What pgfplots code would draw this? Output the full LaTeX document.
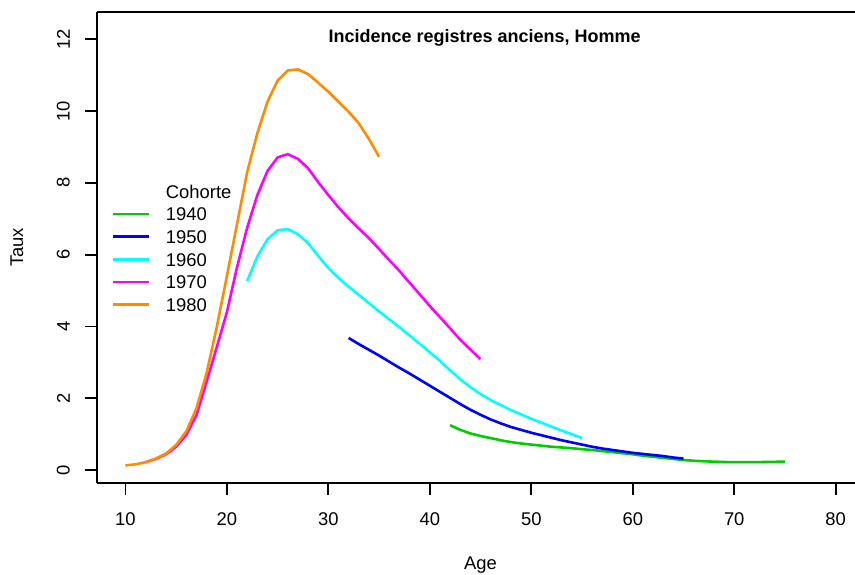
\documentclass[border=0pt]{standalone}
\usepackage{fontspec}
\setmainfont{Liberation Sans}
\usepackage{pgfplots}
\pgfplotsset{compat=1.18}

\definecolor{rgreen}{RGB}{0,205,0}
\definecolor{rblue}{RGB}{0,0,255}
\definecolor{rcyan}{RGB}{0,255,255}
\definecolor{rmagenta}{RGB}{255,0,255}
\definecolor{rorange}{RGB}{255,140,0}

\newcommand{\rfont}{\fontsize{9.2pt}{11pt}\selectfont}

\begin{document}
\begin{tikzpicture}
\useasboundingbox (-48.5pt,-45.5pt) rectangle (379pt,241.5pt);
\begin{axis}[
    at={(0,0)}, anchor=south west,
    scale only axis,
    width=379pt, height=235.5pt,
    xmin=7.2, xmax=81.9,
    ymin=-0.36, ymax=12.76,
    axis x line=box, axis y line=left,
    y axis line style={-},
    axis line style={line width=0.9pt},
    xtick={10,20,...,80}, ytick={0,2,...,12},
    xtick pos=left, ytick pos=left,
    tick align=outside,
    major tick length=5.8pt,
    tick style={line width=0.9pt, black},
    /pgf/number format/assume math mode=true,
    tick label style={font=\rfont},
    xticklabel style={anchor=north, inner sep=0pt},
    yticklabel style={rotate=90, anchor=south, inner sep=0pt},
    xticklabel shift=8.7pt,
    yticklabel shift=7.6pt,
    label style={font=\rfont},
    xlabel={Age},
    xlabel style={at={(rel axis cs:0.506,0)}, anchor=center, yshift=-41pt},
    ylabel={Taux},
    ylabel style={at={(rel axis cs:0,0.5)}, anchor=center, yshift=40pt},
    legend style={draw=none, fill=none, font=\rfont,
        at={(axis cs:8.61,8.09)}, anchor=north west,
        inner sep=0pt, row sep=0pt, column sep=8pt,
        nodes={inner sep=0pt, text height=9pt, text depth=2.33pt}},
    legend cell align=left,
    legend image code/.code={\draw[#1, line width=1.3pt] (0pt,0pt) -- (17.8pt,0pt);},
    every axis plot/.append style={line width=1.3pt},
]
\addlegendimage{empty legend}
\addlegendentry{Cohorte}

% 1940
\addplot[rgreen] coordinates {
(42,1.25) (43,1.12) (44,1.02) (45,0.95) (46,0.89) (47,0.83) (48,0.78)
(49,0.74) (50,0.71) (51,0.68) (52,0.65) (53,0.63) (54,0.61) (55,0.58)
(56,0.56) (57,0.53) (58,0.50) (59,0.47) (60,0.44) (61,0.40) (62,0.37)
(63,0.34) (64,0.31) (65,0.28) (66,0.26) (67,0.245) (68,0.235) (69,0.225)
(70,0.22) (71,0.22) (72,0.22) (73,0.225) (74,0.23) (75,0.235)
};
\addlegendentry{1940}

% 1950
\addplot[rblue] coordinates {
(32,3.68) (33,3.51) (34,3.35) (35,3.19) (36,3.02) (37,2.85) (38,2.69)
(39,2.52) (40,2.35) (41,2.18) (42,2.01) (43,1.84) (44,1.68) (45,1.54)
(46,1.41) (47,1.30) (48,1.20) (49,1.12) (50,1.04) (51,0.97) (52,0.90)
(53,0.83) (54,0.77) (55,0.71) (56,0.65) (57,0.60) (58,0.56) (59,0.52)
(60,0.48) (61,0.45) (62,0.42) (63,0.39) (64,0.35) (65,0.32)
};
\addlegendentry{1950}

% 1960
\addplot[rcyan] coordinates {
(22,5.27) (23,5.95) (24,6.43) (25,6.68) (26,6.71) (27,6.57) (28,6.32)
(29,5.97) (30,5.63) (31,5.35) (32,5.11) (33,4.88) (34,4.65) (35,4.42)
(36,4.20) (37,3.98) (38,3.75) (39,3.52) (40,3.28) (41,3.04) (42,2.78)
(43,2.53) (44,2.31) (45,2.12) (46,1.95) (47,1.81) (48,1.67) (49,1.55)
(50,1.43) (51,1.32) (52,1.21) (53,1.10) (54,1.00) (55,0.89)
};
\addlegendentry{1960}

% 1970
\addplot[rmagenta] coordinates {
(12,0.22) (13,0.31) (14,0.44) (15,0.65) (16,0.98) (17,1.53) (18,2.46)
(19,3.42) (20,4.40) (21,5.65) (22,6.75) (23,7.66) (24,8.33) (25,8.71)
(26,8.80) (27,8.67) (28,8.41) (29,8.02) (30,7.66) (31,7.32) (32,7.01)
(33,6.73) (34,6.46) (35,6.16) (36,5.85) (37,5.55) (38,5.22) (39,4.90)
(40,4.57) (41,4.26) (42,3.95) (43,3.63) (44,3.36) (45,3.09)
};
\addlegendentry{1970}

% 1980
\addplot[rorange] coordinates {
(10,0.13) (11,0.16) (12,0.22) (13,0.32) (14,0.46) (15,0.70) (16,1.08)
(17,1.72) (18,2.70) (19,3.98) (20,5.40) (21,6.85) (22,8.30) (23,9.38)
(24,10.26) (25,10.85) (26,11.13) (27,11.16) (28,11.03) (29,10.79)
(30,10.54) (31,10.26) (32,9.98) (33,9.66) (34,9.22) (35,8.73)
};
\addlegendentry{1980}

\node[font=\fontsize{9pt}{11pt}\selectfont\bfseries, anchor=base] at (axis cs:45.4,11.9)
    {Incidence registres anciens, Homme};
\end{axis}
\end{tikzpicture}
\end{document}
